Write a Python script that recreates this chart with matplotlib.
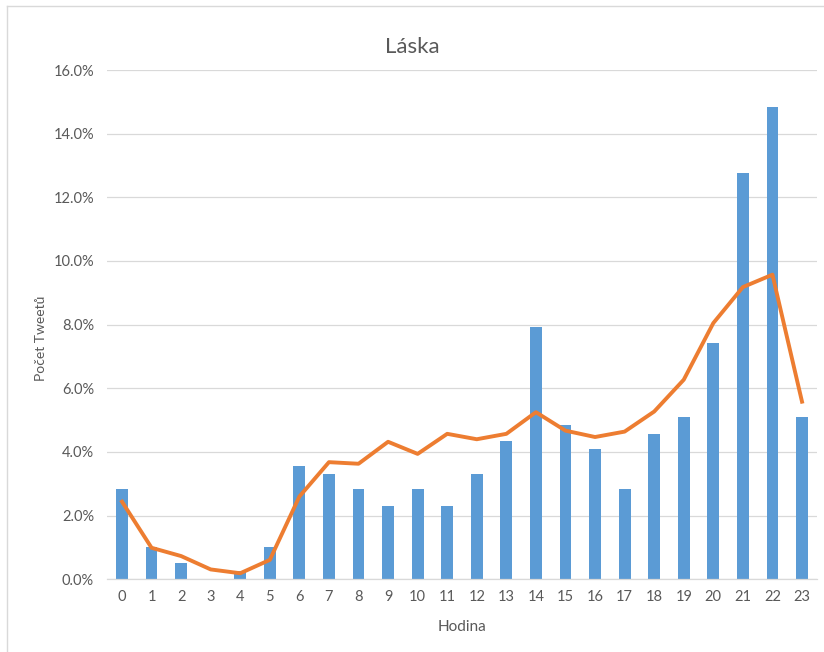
import matplotlib.pyplot as plt
from matplotlib.ticker import PercentFormatter
from matplotlib.lines import Line2D
import numpy as np

plt.rcParams['font.family'] = ['Lato', 'DejaVu Sans']

hours = list(range(24))
# share of tweets per hour (bars) and overall trend (line), in percent
laska = [2.83, 1.03, 0.51, 0.0, 0.26, 1.03, 3.57, 3.31, 2.83, 2.31, 2.83, 2.31,
         3.31, 4.34, 7.93, 4.86, 4.09, 2.83, 4.58, 5.10, 7.43, 12.77, 14.84, 5.10]
celkem = [2.44, 0.99, 0.73, 0.31, 0.19, 0.61, 2.60, 3.68, 3.63, 4.32, 3.94, 4.57,
          4.40, 4.57, 5.25, 4.67, 4.47, 4.64, 5.27, 6.27, 8.05, 9.18, 9.57, 5.58]

W, H = 824, 652
fig = plt.figure(figsize=(W / 100, H / 100), dpi=100)
ax = fig.add_axes([107.2 / W, 1 - 579.3 / H, (816.8 - 107.2) / W, (579.3 - 70) / H])

x = np.array(hours)
ax.bar(x, np.array(laska) / 100, width=0.4, color='#5B9BD5', zorder=2)
ax.plot(x, np.array(celkem) / 100, color='#ED7D31', lw=2.8, zorder=3,
        solid_joinstyle='round')

ax.set_xlim(-0.5, 23.5)
ax.set_ylim(0, 0.16)
ax.set_yticks(np.arange(0, 0.161, 0.02))
ax.yaxis.set_major_formatter(PercentFormatter(1.0, decimals=1))
ax.set_xticks(x)
ax.set_xticklabels([str(h) for h in hours])
ax.grid(axis='y', color='#D9D9D9', lw=0.9, zorder=0)
for s in ['top', 'right', 'left']:
    ax.spines[s].set_visible(False)
ax.spines['bottom'].set_color('#D9D9D9')
ax.spines['bottom'].set_linewidth(0.9)
ax.tick_params(length=0, colors='#595959', labelsize=10.5)
ax.tick_params(axis='y', pad=9.5)
ax.tick_params(axis='x', pad=8)

fig.text(412 / W, 1 - 47 / H, 'Láska', ha='center', va='center',
         fontsize=16, color='#595959')
fig.text(461.7 / W, 1 - 627 / H, 'Hodina', ha='center', va='center',
         fontsize=11, color='#595959')
fig.text(41 / W, 1 - 338 / H, 'Počet Tweetů', ha='center', va='center',
         rotation=90, fontsize=10, color='#595959')

# chart area border (only top and left edges visible in the crop)
fig.add_artist(Line2D([7 / W, 7 / W], [0, 1 - 6 / H], transform=fig.transFigure,
                      color='#D9D9D9', lw=1))
fig.add_artist(Line2D([7 / W, 1], [1 - 6 / H, 1 - 6 / H], transform=fig.transFigure,
                      color='#D9D9D9', lw=1))

fig.savefig('out.png', dpi=100)
